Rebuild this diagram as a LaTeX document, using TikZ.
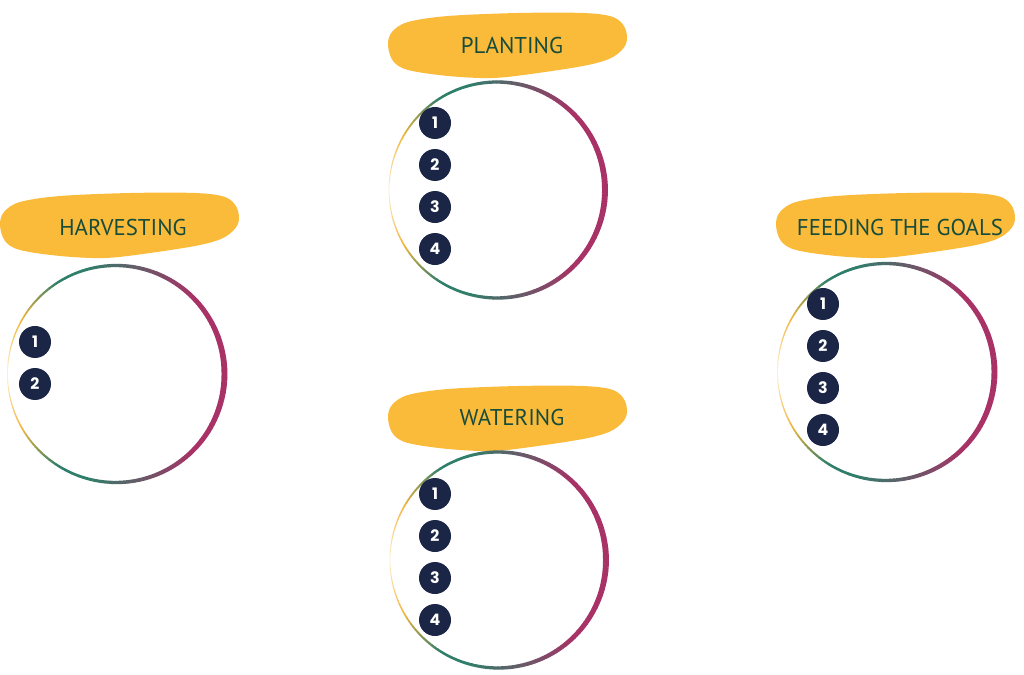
\documentclass[tikz,border=0pt]{standalone}
\usepackage{fontspec}
\usetikzlibrary{positioning}
\newfontfamily\titlefont{PT Sans}
\newfontfamily\numfont{Poppins}
\definecolor{tagyellow}{RGB}{251,187,58}
\definecolor{taggreen}{RGB}{24,76,58}
\definecolor{badgenavy}{RGB}{27,38,70}
\definecolor{ringmag}{RGB}{168,49,102}
\definecolor{ringteal}{RGB}{47,126,106}
\definecolor{ringgold}{RGB}{242,181,58}
\tikzstyle{title} = [font=\titlefont\fontsize{13}{13}\selectfont, text=taggreen, inner sep=0pt]
\tikzstyle{badge} = [circle, fill=badgenavy, minimum size=0.64cm, inner sep=0pt, text=white, font=\numfont\bfseries\fontsize{9}{9}\selectfont]

% painted tag behind a title
\newcommand{\labelblob}[1]{%
  \fill[tagyellow, shift={(#1)}] plot[smooth cycle, tension=0.55] coordinates {(-2.4,0) (-2.3,-0.32) (-2.0,-0.5) (-1.2,-0.62) (-0.3,-0.66) (0.6,-0.56) (1.6,-0.4) (2.1,-0.24) (2.36,0.02) (2.34,0.34) (2.1,0.56) (1.5,0.64) (0.2,0.64) (-1.2,0.58) (-2.0,0.46) (-2.32,0.26)};}

% ring: thin and gold on the left, thick and magenta on the right
\newcommand{\stepring}[2]{%
  \foreach \a in {-180,-178,...,178} {
    \pgfmathsetmacro\ang{abs(\a+1)}
    \pgfmathsetmacro\wd{0.4+3.0*(1-\ang/180)}
    \ifdim\ang pt<45pt \colorlet{ringcol}{ringmag}
    \else\ifdim\ang pt<105pt \pgfmathtruncatemacro\p{(\ang-45)/60*100}\colorlet{ringcol}{ringteal!\p!ringmag}
    \else\ifdim\ang pt<122pt \colorlet{ringcol}{ringteal}
    \else\ifdim\ang pt<150pt \pgfmathtruncatemacro\p{(\ang-122)/28*100}\colorlet{ringcol}{ringgold!\p!ringteal}
    \else \pgfmathtruncatemacro\p{100-(\ang-150)/30*80}\colorlet{ringcol}{ringgold!\p!white}
    \fi\fi\fi\fi
    \draw[line width=\wd pt, ringcol] (#1) ++(\a:#2) arc (\a:\a+2.2:#2);
  }}

\begin{document}
\begin{tikzpicture}
\useasboundingbox (0,0) rectangle (20.48,13.5);

% Tags
\coordinate (plantingtag) at (10.16,12.6);
\coordinate (harvestingtag) at (2.4,9.0);
\coordinate (wateringtag) at (10.16,5.14);
\coordinate (feedingtag) at (17.92,9.0);
\labelblob{plantingtag}
\labelblob{harvestingtag}
\labelblob{wateringtag}
\labelblob{feedingtag}

% Rings
\coordinate (plantingring) at (9.94,9.7);
\coordinate (harvestingring) at (2.32,6.02);
\coordinate (wateringring) at (9.96,2.3);
\coordinate (feedingring) at (17.72,6.06);
\stepring{plantingring}{2.16}
\stepring{harvestingring}{2.17}
\stepring{wateringring}{2.16}
\stepring{feedingring}{2.17}

% Titles
\node[title] (planting) at (10.24,12.58) {PLANTING};
\node[title] (harvesting) at (2.46,8.94) {HARVESTING};
\node[title] (watering) at (10.24,5.14) {WATERING};
\node[title] (feeding) at (18.0,8.94) {FEEDING THE GOALS};

% Planting steps
\node[badge] (p1) at (8.7,11.04) {1};
\node[badge, below=0.186cm of p1] (p2) {2};
\node[badge, below=0.186cm of p2] (p3) {3};
\node[badge, below=0.186cm of p3] (p4) {4};

% Harvesting steps
\node[badge] (h1) at (0.7,6.66) {1};
\node[badge, below=0.186cm of h1] (h2) {2};

% Watering steps
\node[badge] (w1) at (8.7,3.62) {1};
\node[badge, below=0.186cm of w1] (w2) {2};
\node[badge, below=0.186cm of w2] (w3) {3};
\node[badge, below=0.186cm of w3] (w4) {4};

% Feeding steps
\node[badge] (f1) at (16.46,7.42) {1};
\node[badge, below=0.186cm of f1] (f2) {2};
\node[badge, below=0.186cm of f2] (f3) {3};
\node[badge, below=0.186cm of f3] (f4) {4};
\end{tikzpicture}
\end{document}
